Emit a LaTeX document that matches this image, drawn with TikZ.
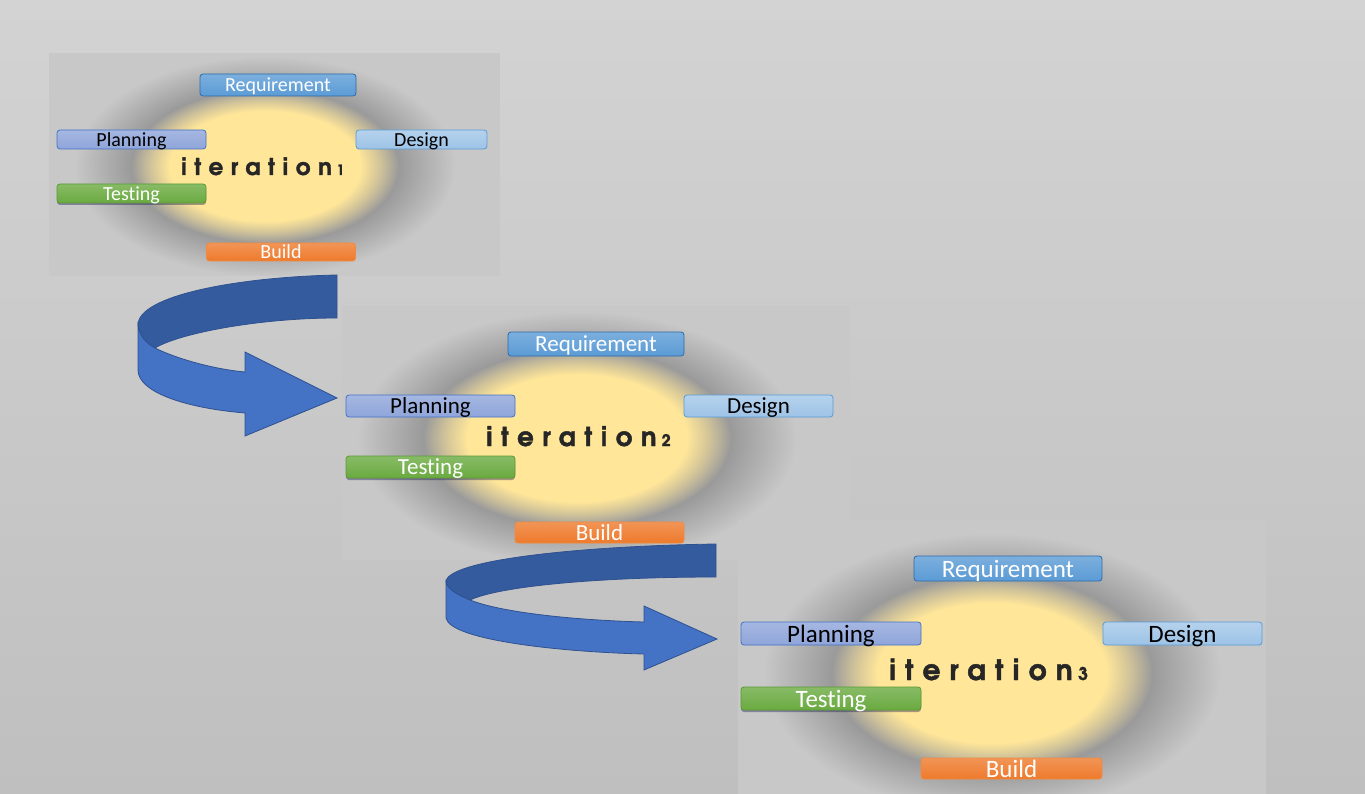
\documentclass[tikz,border=0pt]{standalone}
\usepackage{fontspec}
\setmainfont{Carlito}[Ligatures=NoCommon]
\newfontfamily\iterfont{texgyreadventor-bold.otf}[LetterSpace=33, FakeBold=1.6]
\usepackage{xcolor}
\usepackage{tikz}
\usetikzlibrary{shadows}

% Colores
\definecolor{bgtop}{HTML}{D3D3D3}
\definecolor{bgbottom}{HTML}{BFBFBF}
\definecolor{panelgray}{HTML}{C8C8C8}
\definecolor{halogray}{HTML}{9A9A9A}
\definecolor{glowyellow}{HTML}{FFE699}
\definecolor{reqblue}{HTML}{5B9BD5}
\definecolor{reqline}{HTML}{2E6BA8}
\definecolor{planblue}{HTML}{8FA5DA}
\definecolor{planline}{HTML}{4472C4}
\definecolor{designblue}{HTML}{9DC3E6}
\definecolor{designline}{HTML}{5B9BD5}
\definecolor{testgreen}{HTML}{6AAA40}
\definecolor{testline}{HTML}{5A9A33}
\definecolor{buildorange}{HTML}{EE7A2C}
\definecolor{buildline}{HTML}{F08A40}
\definecolor{arrowdark}{HTML}{345B9E}
\definecolor{arrowlight}{HTML}{4472C4}
\definecolor{arrowline}{HTML}{2F528F}

% Halo amarillo con sombra gris
\pgfdeclareradialshading{glow}{\pgfpoint{0bp}{0bp}}{color(0bp)=(glowyellow); color(12.5bp)=(glowyellow); color(15bp)=(glowyellow!55!halogray); color(17.5bp)=(halogray); color(25bp)=(panelgray); color(50bp)=(panelgray)}

\newcommand\labelsmall{\fontsize{20}{20}\selectfont}
\newcommand\labelmid{\fontsize{23}{23}\selectfont}
\newcommand\labelbig{\fontsize{25}{25}\selectfont}

\tikzset{
  stagebox/.style={rounded corners=3pt, inner sep=0pt, line width=0.8pt, text depth=0pt},
  reqbox/.style={stagebox, draw=reqline, top color=reqblue!80!white, bottom color=reqblue, text=white},
  planbox/.style={stagebox, draw=planline, top color=planblue!80!white, bottom color=planblue, text=black},
  designbox/.style={stagebox, draw=designline, top color=designblue!75!white, bottom color=designblue, text=black},
  testbox/.style={stagebox, draw=testline, top color=testgreen!80!white, bottom color=testgreen, text=white,
    drop shadow={shadow xshift=0pt, shadow yshift=-2pt, opacity=0.35, fill=black!70!blue}},
  buildbox/.style={stagebox, draw=buildline, top color=buildorange!80!white, bottom color=buildorange, text=white},
  iterlabel/.style={inner sep=0pt, anchor=base west, text=black!85}
}

\begin{document}
\begin{tikzpicture}[x=1pt, y=-1pt]
% Fondo
\useasboundingbox (0,0) rectangle (1365,794);
\shade[top color=bgtop, bottom color=bgbottom] (0,0) rectangle (1365,794);

% Panel de la iteracion 1
\begin{scope}
\clip (49,53) rectangle (500,276);
\fill[panelgray] (49,53) rectangle (500,276);
\shade[shading=glow] (265,166) ellipse (191 and 110);
\end{scope}
\node[reqbox, minimum width=156pt, minimum height=22pt, font=\labelsmall] (req1) at (278,85) {Requirement};
\node[planbox, minimum width=149pt, minimum height=19pt, font=\labelsmall] (plan1) at (131.5,139.5) {Planning};
\node[designbox, minimum width=131pt, minimum height=19pt, font=\labelsmall] (design1) at (421.5,139.5) {Design};
\node[testbox, minimum width=149pt, minimum height=19pt, font=\labelsmall] (test1) at (131.5,193.5) {Testing};
\node[buildbox, minimum width=149pt, minimum height=18pt, font=\labelsmall] (build1) at (281,252) {Build};
\node[iterlabel, font=\iterfont\fontsize{23}{23}\selectfont] (iter1) at (181,175) {iteration\hspace{0.2em}{\fontsize{14}{14}\selectfont 1}};

% Panel de la iteracion 2
\begin{scope}
\clip (342,306) rectangle (850,560);
\fill[panelgray] (342,306) rectangle (850,560);
\shade[shading=glow] (577,438) ellipse (220 and 127);
\end{scope}
\node[reqbox, minimum width=176pt, minimum height=24pt, font=\labelmid] (req2) at (596,344) {Requirement};
\node[planbox, minimum width=169pt, minimum height=22pt, font=\labelmid] (plan2) at (430.5,406) {Planning};
\node[designbox, minimum width=149pt, minimum height=22pt, font=\labelmid] (design2) at (758.5,406) {Design};
\node[testbox, minimum width=169pt, minimum height=22pt, font=\labelmid] (test2) at (430.5,467) {Testing};
\node[buildbox, minimum width=169pt, minimum height=21pt, font=\labelmid] (build2) at (599.5,532.5) {Build};
\node[iterlabel, font=\iterfont\fontsize{26}{26}\selectfont] (iter2) at (486,446) {iteration\hspace{0.2em}{\fontsize{16}{16}\selectfont 2}};

% Flecha curva 1 (banda de atras)
\filldraw[fill=arrowdark, draw=arrowline, line width=0.8pt]
  (337,275) .. controls (240,277) and (138,295) .. (138,325)
  .. controls (140,337) and (146,343) .. (155,348)
  .. controls (180,333) and (260,318) .. (337,318) -- cycle;
% Flecha curva 1 (banda de delante con punta)
\filldraw[fill=arrowlight, draw=arrowline, line width=0.8pt, line join=miter]
  (138,325) -- (138,370) .. controls (138,392) and (185,408) .. (245,413)
  -- (245,436) -- (337,398) -- (245,352) -- (245,372)
  .. controls (212,369) and (175,358) .. (155,348)
  .. controls (146,343) and (140,337) .. (138,325) -- cycle;

% Panel de la iteracion 3
\begin{scope}
\clip (738,520) rectangle (1266,794);
\fill[panelgray] (738,520) rectangle (1266,794);
\shade[shading=glow] (992,673) ellipse (229 and 140);
\end{scope}
\node[reqbox, minimum width=188pt, minimum height=25pt, font=\labelbig] (req3) at (1008,568.5) {Requirement};
\node[planbox, minimum width=180pt, minimum height=23pt, font=\labelbig] (plan3) at (831,633.5) {Planning};
\node[designbox, minimum width=159pt, minimum height=23pt, font=\labelbig] (design3) at (1182.5,633.5) {Design};
\node[testbox, minimum width=180pt, minimum height=23pt, font=\labelbig] (test3) at (831,698.5) {Testing};
\node[buildbox, minimum width=181pt, minimum height=21pt, font=\labelbig] (build3) at (1011.5,768.5) {Build};
\node[iterlabel, font=\iterfont\fontsize{28}{28}\selectfont] (iter3) at (889,680) {iteration\hspace{0.2em}{\fontsize{17.5}{17.5}\selectfont 3}};

% Flecha curva 2 (banda de atras)
\filldraw[fill=arrowdark, draw=arrowline, line width=0.8pt]
  (716,544) .. controls (580,546) and (446,560) .. (446,582)
  .. controls (447,588) and (455,594) .. (470,600)
  .. controls (500,586) and (600,577) .. (716,577) -- cycle;
% Flecha curva 2 (banda de delante con punta)
\filldraw[fill=arrowlight, draw=arrowline, line width=0.8pt, line join=miter]
  (446,582) -- (446,618) .. controls (450,640) and (560,652) .. (644,654)
  -- (644,670) -- (717,639) -- (644,606) -- (644,622)
  .. controls (570,620) and (500,612) .. (470,600)
  .. controls (455,594) and (447,588) .. (446,582) -- cycle;
\end{tikzpicture}
\end{document}
